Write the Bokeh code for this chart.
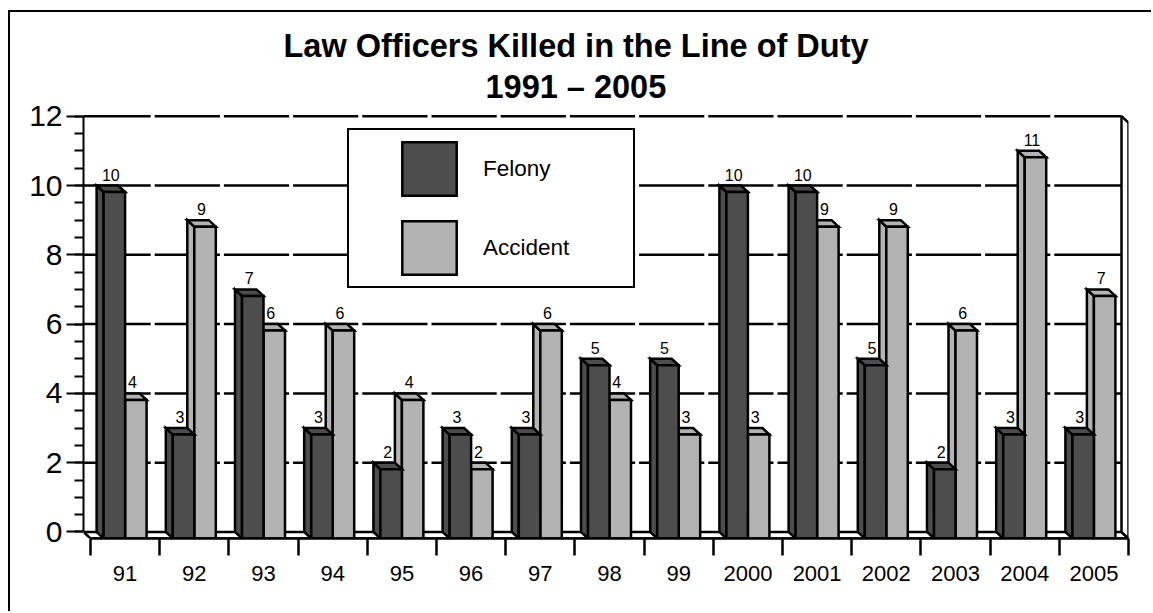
from bokeh.plotting import figure
from bokeh.models import (Range1d, LinearAxis, FixedTicker,
                          Legend, LegendItem, Title)
from bokeh.core.properties import value
from bokeh.embed import file_html
from bokeh.resources import INLINE

# ---------------- data ----------------
years = ["91", "92", "93", "94", "95", "96", "97", "98", "99",
         "2000", "2001", "2002", "2003", "2004", "2005"]
felony = [10, 3, 7, 3, 2, 3, 3, 5, 5, 10, 10, 5, 2, 3, 3]
accident = [4, 9, 6, 6, 4, 2, 6, 4, 3, 3, 9, 9, 6, 11, 7]
y_ticks = [0, 2, 4, 6, 8, 10, 12]
title_lines = ["Law Officers Killed in the Line of Duty", "1991 \u2013 2005"]
series_names = ["Felony", "Accident"]
series_colors = ["#4d4d4d", "#b3b3b3"]

# ---------------- geometry (3D look) ----------------
N = len(years)
YMAX = y_ticks[-1]
PX_X = 69.2          # px per category
PX_Y = 34.63         # px per unit
DX = 7.0 / PX_X      # depth offset (x, categories)
DY = 6.5 / PX_Y      # depth offset (y, units)
BAR_W = 21.5 / PX_X  # bar width (categories)
FONT = "Liberation Sans"

p = figure(width=1143, height=601,
           x_range=Range1d(-DX, N), y_range=Range1d(-DY, YMAX + 10.7 / PX_Y),
           output_backend="svg", toolbar_location=None, title=None,
           x_axis_type=None, y_axis_type=None,
           min_border_left=73, min_border_right=25,
           min_border_top=93, min_border_bottom=75)
p.outline_line_color = None
p.background_fill_color = "white"
p.border_fill_color = "white"
# outer frame of the chart: only its left and top edges fall inside the window
p.styles = {"margin-left": "10px", "margin-top": "12px",
            "box-shadow": "-2px -2px 0px 0px black"}

# floor
p.patch([-DX, N - DX, N, 0], [0, 0, -DY, -DY], fill_color="white",
        line_color="black", line_width=2.5)
# right side wall
p.patch([N - DX, N - DX, N, N], [0, YMAX, YMAX - DY, -DY], fill_color="white",
        line_color="black", line_width=2.5)

# dashed gridlines on the back wall (a gap at each category boundary)
gap = 2.0 / PX_X
gx0, gx1, gy = [], [], []
for g in y_ticks[1:]:
    for i in range(N):
        gx0.append(i - DX + (gap if i > 0 else 0))
        gx1.append(i + 1 - DX - (gap if i < N - 1 else 0))
        gy.append(g)
p.segment(x0=gx0, y0=gy, x1=gx1, y1=gy, line_color="black", line_width=2.5)


def faces(vals, k):
    xs, ys = [], []
    for i, v in enumerate(vals):
        x0f = i + 0.5 - BAR_W + k * BAR_W
        x1f = x0f + BAR_W
        x0b, x1b = x0f - DX, x1f - DX
        xs += [[x0b, x0b, x0f, x0f], [x0b, x1b, x1f, x0f], [x0f, x0f, x1f, x1f]]
        ys += [[0, v, v - DY, -DY], [v, v, v - DY, v - DY], [-DY, v - DY, v - DY, -DY]]
    return xs, ys


ax, ay = faces(accident, 1)
r_acc = p.patches(ax, ay, fill_color=series_colors[1], line_color="black",
                  line_width=2.5, line_join="miter")
fx, fy = faces(felony, 0)
r_fel = p.patches(fx, fy, fill_color=series_colors[0], line_color="black",
                  line_width=2.5, line_join="miter")

# value labels
lx, ly, lt = [], [], []
for k, vals in enumerate([felony, accident]):
    for i, v in enumerate(vals):
        x0f = i + 0.5 - BAR_W + k * BAR_W
        lx.append((x0f - DX + x0f + BAR_W) / 2)
        ly.append(v)
        lt.append(str(v))
p.text(x=lx, y=ly, text=lt, text_font=value(FONT), text_font_size="16px",
       text_align="center", text_baseline="alphabetic", y_offset=-11,
       text_color="black")

# axes
yaxis = LinearAxis(ticker=FixedTicker(ticks=y_ticks,
                                      minor_ticks=[t / 2 for t in range(0, 2 * YMAX + 1)]),
                   bounds=(0, YMAX))
yaxis.axis_line_width = 2
yaxis.major_tick_line_width = 2
yaxis.minor_tick_line_width = 2
yaxis.major_tick_out = 17
yaxis.major_tick_in = 0
yaxis.minor_tick_out = 9
yaxis.minor_tick_in = 0
yaxis.major_label_text_font = FONT
yaxis.major_label_text_font_size = "30px"
yaxis.major_label_text_color = "black"
yaxis.major_label_standoff = 4
p.add_layout(yaxis, "left")

centers = [i + 0.5 for i in range(N)]
xaxis = LinearAxis(ticker=FixedTicker(ticks=centers, minor_ticks=list(range(N + 1))),
                   bounds=(0, N))
xaxis.major_label_overrides = {c: y for c, y in zip(centers, years)}
xaxis.axis_line_width = 2.5
xaxis.major_tick_out = 0
xaxis.major_tick_in = 0
xaxis.major_tick_line_color = None
xaxis.minor_tick_out = 17
xaxis.minor_tick_in = 0
xaxis.minor_tick_line_width = 2.5
xaxis.major_label_text_font = FONT
xaxis.major_label_text_font_size = "22px"
xaxis.major_label_text_color = "black"
xaxis.major_label_standoff = 10
p.add_layout(xaxis, "below")

p.xgrid.visible = False
p.ygrid.visible = False

# legend
legend = Legend(items=[LegendItem(label=series_names[0], renderers=[r_fel]),
                       LegendItem(label=series_names[1], renderers=[r_acc])],
                location=(264, 250), margin=0, padding=5, spacing=12,
                glyph_width=68, glyph_height=67, label_standoff=20,
                label_width=145, title=" ", title_location="left",
                title_text_font_size="1px", title_standoff=40)
legend.label_text_font = FONT
legend.label_text_font_size = "22.5px"
legend.label_text_color = "black"
legend.border_line_color = "black"
legend.border_line_alpha = 1.0
legend.border_line_width = 2
legend.background_fill_color = "white"
legend.background_fill_alpha = 1
p.add_layout(legend)

# title (two lines), centred on the whole chart rather than the plot frame
for line, so, off in zip(reversed(title_lines), [2, 4], [402, 200]):
    p.add_layout(Title(text=line, align="left", offset=off, text_font=FONT,
                       text_font_size="32.5px", text_font_style="bold",
                       text_color="black", standoff=so), "above")

open("out.html", "w").write(file_html(p, INLINE))
